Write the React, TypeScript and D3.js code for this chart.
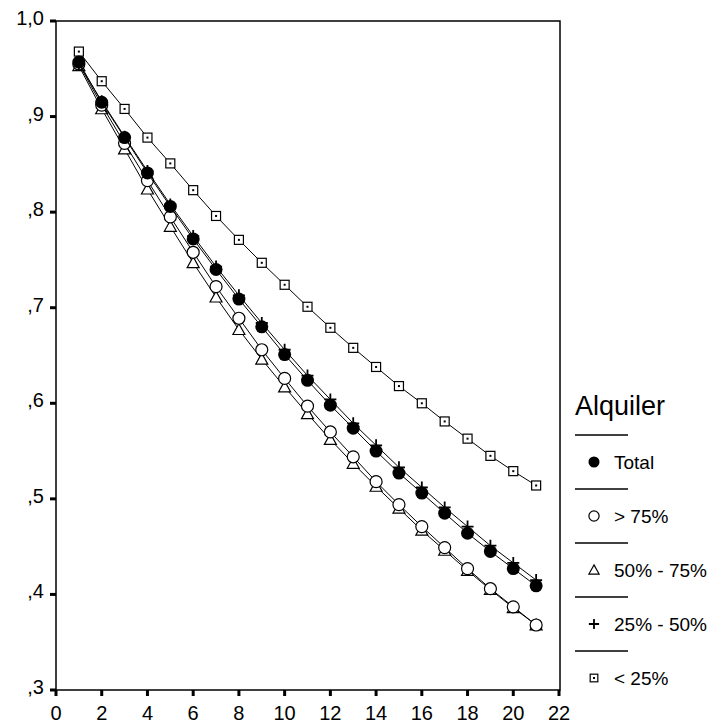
import React, { useEffect, useRef } from 'react';
import * as d3 from 'd3';

const months = d3.range(1, 22);
const total = [0.957, 0.915, 0.878, 0.841, 0.806, 0.772, 0.740, 0.709, 0.680, 0.651, 0.624, 0.598, 0.574, 0.550, 0.527, 0.506, 0.485, 0.464, 0.445, 0.427, 0.409];
const over75 = [0.955, 0.912, 0.872, 0.833, 0.795, 0.758, 0.722, 0.689, 0.656, 0.626, 0.597, 0.570, 0.544, 0.518, 0.494, 0.471, 0.449, 0.427, 0.406, 0.387, 0.368];
const from50to75 = [0.953, 0.908, 0.866, 0.824, 0.785, 0.747, 0.711, 0.677, 0.646, 0.617, 0.589, 0.562, 0.537, 0.513, 0.490, 0.467, 0.446, 0.425, 0.405, 0.386, 0.368];
const from25to50 = [0.955, 0.916, 0.879, 0.843, 0.808, 0.775, 0.743, 0.713, 0.684, 0.656, 0.629, 0.604, 0.579, 0.556, 0.533, 0.512, 0.491, 0.471, 0.451, 0.433, 0.415];
const under25 = [0.968, 0.937, 0.908, 0.878, 0.851, 0.823, 0.796, 0.771, 0.747, 0.724, 0.701, 0.679, 0.658, 0.638, 0.618, 0.600, 0.581, 0.563, 0.545, 0.529, 0.514];

const seriesNames = ['Total', '> 75%', '50% - 75%', '25% - 50%', '< 25%'];
const seriesValues = [total, over75, from50to75, from25to50, under25];
const markerKinds = ['dot', 'circle', 'triangle', 'plus', 'square'];
const xTicks = d3.range(0, 23, 2);
const yTicks = [1.0, 0.9, 0.8, 0.7, 0.6, 0.5, 0.4, 0.3];
const legendTitle = 'Alquiler';

const FONT = '"Liberation Sans", Arial, sans-serif';

function drawMarker(g: any, kind: string, big: boolean) {
  const s = big ? 1 : 0.85;
  if (kind === 'dot') {
    g.append('circle').attr('r', 6.5 * s).attr('fill', '#000');
  } else if (kind === 'circle') {
    g.append('circle').attr('r', 6 * s).attr('fill', '#fff').attr('stroke', '#000').attr('stroke-width', 1.2);
  } else if (kind === 'triangle') {
    const h = 6 * s;
    g.append('path')
      .attr('d', `M0,${-h} L${h},${h * 0.8} L${-h},${h * 0.8} Z`)
      .attr('fill', '#fff').attr('stroke', '#000').attr('stroke-width', 1.2);
  } else if (kind === 'plus') {
    const h = 6 * s;
    g.append('path').attr('d', `M${-h},0 H${h} M0,${-h} V${h}`).attr('stroke', '#000').attr('stroke-width', 1.8);
  } else {
    const h = 4.5 * s;
    g.append('rect').attr('x', -h).attr('y', -h).attr('width', 2 * h).attr('height', 2 * h)
      .attr('fill', '#fff').attr('stroke', '#000').attr('stroke-width', 1.2);
    g.append('rect').attr('x', -1).attr('y', -1).attr('width', 2).attr('height', 2).attr('fill', '#000');
  }
}

export default function App() {
  const ref = useRef<SVGSVGElement>(null);

  useEffect(() => {
    const svg = d3.select(ref.current);
    svg.selectAll('*').remove();

    const left = 56, right = 560, top = 21, bottom = 690;
    const x = d3.scaleLinear().domain([0, 22]).range([left, right - 1]);
    const y = d3.scaleLinear().domain([0.3, 1.0]).range([bottom, top]);

    // frame
    svg.append('rect')
      .attr('x', left).attr('y', top)
      .attr('width', right - left).attr('height', bottom - top)
      .attr('fill', 'none').attr('stroke', '#000').attr('stroke-width', 1.5);

    // x axis
    const xg = svg.append('g');
    xTicks.forEach((t) => {
      xg.append('line').attr('x1', x(t)).attr('x2', x(t)).attr('y1', bottom).attr('y2', bottom + 6)
        .attr('stroke', '#000').attr('stroke-width', 3);
      xg.append('text').attr('x', x(t)).attr('y', bottom + 30)
        .attr('text-anchor', 'middle').style('font-family', FONT).style('font-size', '20px')
        .text(String(t));
    });

    // y axis
    const yg = svg.append('g');
    yTicks.forEach((t) => {
      yg.append('line').attr('x1', left - 6).attr('x2', left).attr('y1', y(t)).attr('y2', y(t))
        .attr('stroke', '#000').attr('stroke-width', 3);
      const label = t === 1 ? '1,0' : ',' + Math.round(t * 10);
      yg.append('text').attr('x', left - 12).attr('y', y(t) + 4)
        .attr('text-anchor', 'end').style('font-family', FONT).style('font-size', '20px')
        .text(label);
    });

    const line = d3.line<number>().x((_, i) => x(months[i])).y((d) => y(d));

    // draw from back to front
    const order = [4, 2, 1, 3, 0];
    order.forEach((si) => {
      const vals = seriesValues[si];
      svg.append('path').attr('d', line(vals) as string)
        .attr('fill', 'none').attr('stroke', '#000').attr('stroke-width', 1);
      vals.forEach((v, i) => {
        const g = svg.append('g').attr('transform', `translate(${x(months[i])},${y(v)})`);
        drawMarker(g, markerKinds[si], true);
      });
    });

    // legend
    const lg = svg.append('g').attr('transform', 'translate(575,0)');
    lg.append('text').attr('x', 0).attr('y', 415)
      .style('font-family', FONT).style('font-size', '27px').text(legendTitle);
    seriesNames.forEach((name, i) => {
      const yy = 462 + i * 54;
      lg.append('line').attr('x1', 0).attr('x2', 53).attr('y1', yy - 27).attr('y2', yy - 27)
        .attr('stroke', '#000').attr('stroke-width', 1.5);
      const mg = lg.append('g').attr('transform', `translate(19,${yy})`);
      drawMarker(mg, markerKinds[i], false);
      lg.append('text').attr('x', 39).attr('y', yy + 7)
        .style('font-family', FONT).style('font-size', '19px').text(name);
    });
  }, []);

  return (
    <svg ref={ref} width={725} height={725}
      style={{ position: 'absolute', left: 0, top: 0, background: '#fff' }} />
  );
}
